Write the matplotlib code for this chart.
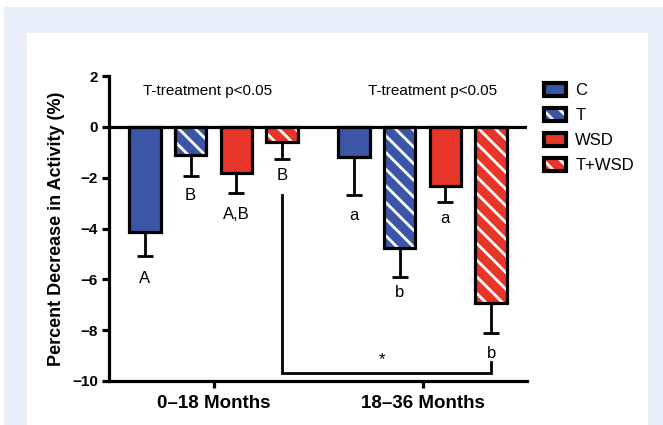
import matplotlib
matplotlib.use("Agg")
import matplotlib.pyplot as plt
from matplotlib.patches import Rectangle
from matplotlib.legend_handler import HandlerBase
import numpy as np

plt.rcParams['font.family'] = ['Liberation Sans', 'DejaVu Sans']
plt.rcParams['hatch.linewidth'] = 2.0

# ---- data ----
groups = ["0\u201318 Months", "18\u201336 Months"]
series = ["C", "T", "WSD", "T+WSD"]
values = {
    "C":     [-4.15, -1.2],
    "T":     [-1.1, -4.75],
    "WSD":   [-1.8, -2.33],
    "T+WSD": [-0.6, -6.95],
}
errors = {
    "C":     [0.95, 1.5],
    "T":     [0.85, 1.15],
    "WSD":   [0.8, 0.62],
    "T+WSD": [0.65, 1.15],
}
letters = {
    "C":     ["A", "a"],
    "T":     ["B", "b"],
    "WSD":   ["A,B", "a"],
    "T+WSD": ["B", "b"],
}
letter_y = {
    "C":     [-5.95, -3.5],
    "T":     [-2.7, -6.5],
    "WSD":   [-3.45, -3.6],
    "T+WSD": [-1.9, -8.9],
}
annot_text = "T-treatment p<0.05"
yticks = [2, 0, -2, -4, -6, -8, -10]

BLUE = "#3b56a6"
RED = "#e8352a"
faces = {"C": BLUE, "T": BLUE, "WSD": RED, "T+WSD": RED}
hatched = {"C": False, "T": True, "WSD": False, "T+WSD": True}

W, H = 663, 425
fig = plt.figure(figsize=(W / 100, H / 100), dpi=100)

# background panels
fig.patches.append(Rectangle((4 / W, 0), 1 - 4 / W, 1 - 7 / H, transform=fig.transFigure,
                             facecolor="#e7eef8", edgecolor="none", zorder=-10))
fig.patches.append(Rectangle((27 / W, 0), (648 - 27) / W, 1 - 33 / H, transform=fig.transFigure,
                             facecolor="white", edgecolor="none", zorder=-9))

ax = fig.add_axes([109 / W, 1 - 381 / H, (527 - 109) / W, (381 - 76) / H])
ax.set_facecolor("none")

x = np.arange(len(groups))
spacing = 0.219
width = 0.152
offsets = (np.arange(len(series)) - 1.5) * spacing
LW = 2.3

for i, s in enumerate(series):
    xs = x + offsets[i]
    if hatched[s]:
        ax.bar(xs, values[s], width, color=faces[s], edgecolor="white", hatch="\\\\",
               linewidth=0, zorder=3)
        ax.bar(xs, values[s], width, fill=False, edgecolor="black", linewidth=LW, zorder=4)
    else:
        ax.bar(xs, values[s], width, color=faces[s], edgecolor="black", linewidth=LW, zorder=4)
    ax.errorbar(xs, values[s], yerr=[errors[s], [0] * len(groups)], fmt="none",
                ecolor="black", elinewidth=2.0, capsize=6, capthick=2.0, zorder=2)
    for j in range(len(groups)):
        ax.text(xs[j], letter_y[s][j], letters[s][j], ha="center", va="center", fontsize=12)

# zero line
ax.axhline(0, color="black", linewidth=LW, zorder=5)

# bracket between T+WSD bars
xa = x[0] + offsets[3]
xb = x[1] + offsets[3]
ax.plot([xa, xa, xb, xb], [-2.7, -9.7, -9.7, -9.25], color="black", linewidth=2.0,
        solid_joinstyle="miter", zorder=3)
ax.text((xa + xb) / 2 - 0.02, -9.15, "*", ha="center", va="center", fontsize=12)

# annotations
ax.text(x[0] - 0.03, 1.4, annot_text, ha="center", va="center", fontsize=11)
ax.text(x[1] + 0.05, 1.4, annot_text, ha="center", va="center", fontsize=11)

ax.set_xlim(-0.5, 1.5)
ax.set_ylim(-10, 2)
ax.set_yticks(yticks)
ax.set_yticklabels([str(v).replace("-", "\u2212") for v in yticks], fontweight="bold", fontsize=11)
ax.set_xticks(x)
ax.set_xticklabels(groups, fontweight="bold", fontsize=13.5)
ax.tick_params(axis="y", direction="out", length=5, width=LW, pad=3)
ax.tick_params(axis="x", direction="out", length=5, width=LW, pad=5)
for sp in ["top", "right"]:
    ax.spines[sp].set_visible(False)
for sp in ["left", "bottom"]:
    ax.spines[sp].set_linewidth(LW)
ax.set_ylabel("Percent Decrease in Activity (%)", fontweight="bold", fontsize=13, labelpad=5)


class SwatchHandler(HandlerBase):
    def __init__(self, face, hatch):
        super().__init__()
        self.face = face
        self.hatch = hatch

    def create_artists(self, legend, orig_handle, xdescent, ydescent, width, height, fontsize, trans):
        r1 = Rectangle((-xdescent, -ydescent), width, height, facecolor=self.face,
                       edgecolor="white" if self.hatch else self.face,
                       hatch="\\\\" if self.hatch else None, linewidth=0, transform=trans)
        r2 = Rectangle((-xdescent, -ydescent), width, height, fill=False,
                       edgecolor="black", linewidth=3, transform=trans)
        return [r1, r2]


handles = [Rectangle((0, 0), 1, 1) for _ in series]
handler_map = {h: SwatchHandler(faces[s], hatched[s]) for h, s in zip(handles, series)}
fig.legend(handles, series, handler_map=handler_map, loc="upper left",
           bbox_to_anchor=(541 / W, 1 - 80 / H), frameon=False, fontsize=12,
           handlelength=1.3, handleheight=0.75, handletextpad=0.55, labelspacing=0.6,
           borderaxespad=0, borderpad=0.2)

fig.savefig("out.png", dpi=100)
